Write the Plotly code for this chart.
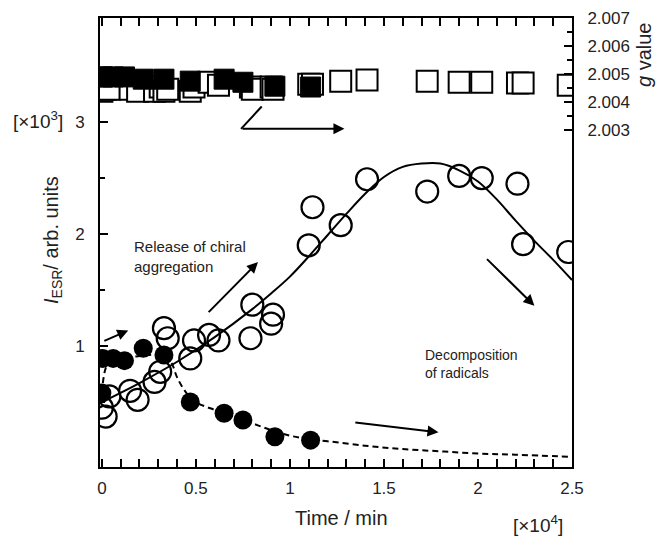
import plotly.graph_objects as go

# ---- data (time in 10^4 min, intensity in 10^3 arb. units) ----
open_t = [0.00, 0.02, 0.04, 0.15, 0.19, 0.28, 0.31, 0.33, 0.35, 0.47, 0.49, 0.57, 0.62,
          0.79, 0.80, 0.90, 0.91, 1.10, 1.12, 1.27, 1.41, 1.73, 1.90, 2.02, 2.21, 2.24, 2.48]
open_I = [0.45, 0.37, 0.55, 0.60, 0.52, 0.68, 0.77, 1.16, 1.07, 0.89, 1.05, 1.10, 1.05,
          1.07, 1.37, 1.20, 1.28, 1.90, 2.24, 2.08, 2.49, 2.38, 2.52, 2.50, 2.45, 1.91, 1.84]
open_g = [2.00439, 2.00446, 2.00446, 2.00446, 2.00439, 2.00439, 2.00454, 2.00439, 2.00446,
          2.00439, 2.00454, 2.00471, 2.00460, 2.00454, 2.00446, 2.00454, 2.00446, 2.00464,
          2.00464, 2.00475, 2.00479, 2.00475, 2.00471, 2.00471, 2.00468, 2.00468, 2.00460]

filled_t = [0.00, 0.005, 0.06, 0.12, 0.22, 0.33, 0.47, 0.65, 0.75, 0.92, 1.11]
filled_I = [0.58, 0.89, 0.89, 0.87, 0.98, 0.92, 0.50, 0.40, 0.34, 0.19, 0.16]
filled_g = [2.00490, 2.00490, 2.00490, 2.00490, 2.00482, 2.00482, 2.00475, 2.00482,
            2.00471, 2.00457, 2.00454]

fit_open_t = [0.0, 0.2, 0.4, 0.6, 0.8, 0.9, 1.0, 1.1, 1.2, 1.3, 1.4, 1.5, 1.6, 1.7, 1.8,
              1.9, 2.0, 2.1, 2.2, 2.3, 2.4, 2.5]
fit_open_I = [0.50, 0.67, 0.86, 1.08, 1.33, 1.47, 1.62, 1.80, 1.99, 2.18, 2.36, 2.51, 2.60,
              2.63, 2.63, 2.57, 2.47, 2.31, 2.12, 1.94, 1.77, 1.59]

fit_filled_t = [0.0, 0.02, 0.05, 0.15, 0.25, 0.33, 0.37, 0.40, 0.45, 0.5, 0.6, 0.7, 0.8,
                0.9, 1.0, 1.1, 1.2, 1.4, 1.6, 1.8, 2.0, 2.2, 2.5]
fit_filled_I = [0.58, 0.80, 0.88, 0.90, 0.92, 0.92, 0.85, 0.72, 0.58, 0.50, 0.43, 0.37,
                0.31, 0.25, 0.20, 0.17, 0.15, 0.11, 0.08, 0.06, 0.04, 0.03, 0.01]

x_ticks = [0, 0.5, 1, 1.5, 2, 2.5]
x_tick_text = ["0", "0.5", "1", "1.5", "2", "2.5"]
y_ticks = [1, 2, 3]
y_tick_text = ["1", "2", "3"]
g_ticks = [2.003, 2.004, 2.005, 2.006, 2.007]
g_tick_text = ["2.003", "2.004", "2.005", "2.006", "2.007"]

FONT = "Liberation Sans, Arial, sans-serif"
TXT = "#222"

# plot area in reference-window pixels; the page body adds an 8px offset
OFF = 8
WIN_W, WIN_H = 667, 536
L, R, T, B = 100, 572, 18, 467


def px(xpix):
    return (xpix - L) / (R - L)


def py(ypix):
    return (B - ypix) / (B - T)


fig = go.Figure()

# g-value squares (right axis)
fig.add_trace(go.Scatter(x=open_t, y=open_g, yaxis="y2", mode="markers",
                         marker=dict(symbol="square", size=21, color="white",
                                     line=dict(color="black", width=2)),
                         showlegend=False, hoverinfo="skip"))
fig.add_trace(go.Scatter(x=filled_t, y=filled_g, yaxis="y2", mode="markers",
                         marker=dict(symbol="square", size=20, color="black",
                                     line=dict(color="black", width=1)),
                         showlegend=False, hoverinfo="skip"))

# fits
fig.add_trace(go.Scatter(x=fit_open_t, y=fit_open_I, mode="lines",
                         line=dict(color="black", width=2, shape="spline"),
                         showlegend=False, hoverinfo="skip"))
fig.add_trace(go.Scatter(x=fit_filled_t, y=fit_filled_I, mode="lines",
                         line=dict(color="black", width=2, dash="6px,4px", shape="spline"),
                         showlegend=False, hoverinfo="skip"))

# intensity circles
fig.add_trace(go.Scatter(x=open_t, y=open_I, mode="markers",
                         marker=dict(symbol="circle-open", size=22, color="black",
                                     line=dict(color="black", width=2.2)),
                         showlegend=False))
fig.add_trace(go.Scatter(x=filled_t, y=filled_I, mode="markers",
                         marker=dict(symbol="circle", size=19, color="black"),
                         showlegend=False))

tickfont = dict(family=FONT, size=17, color=TXT)

fig.update_layout(
    width=WIN_W - OFF, height=WIN_H - OFF,
    margin=dict(l=L - OFF, r=WIN_W - R, t=T - OFF, b=WIN_H - B, autoexpand=False),
    paper_bgcolor="white", plot_bgcolor="white",
    showlegend=False,
    xaxis=dict(range=[-0.01, 2.5], tickvals=x_ticks, ticktext=x_tick_text,
               ticks="inside", ticklen=8, tickwidth=2, tickcolor="black",
               showline=True, linewidth=2, linecolor="black", mirror="allticks",
               showgrid=False, zeroline=False, tickfont=tickfont, ticklabelstandoff=5,
               minor=dict(dtick=0.1, tick0=0, ticks="inside", ticklen=4,
                          tickwidth=1.5, tickcolor="black", showgrid=False)),
    yaxis=dict(range=[-0.08, 3.93], tickvals=y_ticks, ticktext=y_tick_text,
               ticks="inside", ticklen=8, tickwidth=2, tickcolor="black",
               showline=True, linewidth=2, linecolor="black",
               showgrid=False, zeroline=False, tickfont=tickfont, ticklabelstandoff=10,
               minor=dict(tickvals=[0.5, 1.5, 2.5], ticks="inside", ticklen=5,
                          tickwidth=1.5, tickcolor="black", showgrid=False)),
    yaxis2=dict(range=[1.991, 2.007], overlaying="y", side="right",
                tickvals=g_ticks, ticktext=g_tick_text,
                ticks="inside", ticklen=8, tickwidth=2, tickcolor="black",
                showline=True, linewidth=2, linecolor="black",
                showgrid=False, zeroline=False, tickfont=tickfont, ticklabelstandoff=10,
                minor=dict(tickvals=[2.0035, 2.0045, 2.0055, 2.0065], ticks="inside",
                           ticklen=5, tickwidth=1.5, tickcolor="black", showgrid=False)),
)

ann = []


def title(text, xp, yp, size, angle=0):
    return dict(text=text, x=px(xp), y=py(yp), xref="paper", yref="paper",
                xanchor="center", yanchor="middle", textangle=angle, showarrow=False,
                font=dict(family=FONT, size=size, color=TXT))


# axis titles
ann.append(title("Time / min", 341, 518, 20))
ann.append(title("[×10<sup>4</sup>]", 538, 524, 19))
ann.append(title("[×10<sup>3</sup>]", 38, 120, 19))
ann.append(title("<i>I</i><sub>ESR</sub>/ arb. units", 52, 240, 20, -90))
ann.append(title("<i>g</i> value", 644, 55, 20, -90))

# text labels
ann.append(dict(text="Release of chiral<br>aggregation", x=0.16, y=1.80, xref="x", yref="y",
                xanchor="left", yanchor="middle", align="left", showarrow=False,
                font=dict(family=FONT, size=15, color=TXT)))
ann.append(dict(text="Decomposition<br>of radicals", x=1.71, y=0.84, xref="x", yref="y",
                xanchor="left", yanchor="middle", align="left", showarrow=False,
                font=dict(family=FONT, size=14, color=TXT)))

# arrows (head at x,y ; tail at ax,ay)
arrows = [
    (0.14, 1.14, 0.005, 1.04),
    (0.83, 1.75, 0.56, 1.29),
    (2.30, 1.36, 2.04, 1.79),
    (1.79, 0.23, 1.34, 0.32),
    (1.29, 2.94, 0.74, 2.94),
]
for hx, hy, tx, ty in arrows:
    ann.append(dict(x=hx, y=hy, ax=tx, ay=ty, xref="x", yref="y", axref="x", ayref="y",
                    text="", showarrow=True, arrowhead=2, arrowsize=1.1, arrowwidth=2,
                    arrowcolor="black"))
fig.update_layout(annotations=ann)

# bent part of the g-value arrow
fig.add_shape(type="line", x0=0.85, y0=3.14, x1=0.74, y1=2.94, xref="x", yref="y",
              line=dict(color="black", width=2))

fig.write_html("out.html")
